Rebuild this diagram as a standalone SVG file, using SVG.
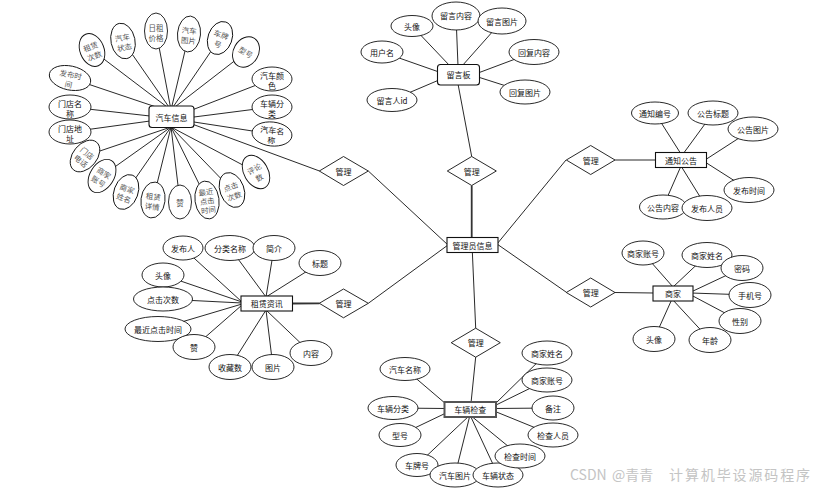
<svg xmlns="http://www.w3.org/2000/svg" width="819" height="494" viewBox="0 0 819 494">
<style>
.bg{fill:#fff}
.c line{stroke:#111;stroke-width:0.9}
.c .k{stroke-width:1.8;stroke:#333}
.e{fill:#fff;stroke:#111;stroke-width:0.9}
.r{fill:#fff;stroke:#111;stroke-width:1.1}
.r2{fill:#fff;stroke:#555;stroke-width:2}
.d{fill:#fff;stroke:#111;stroke-width:0.9}
text{font-family:"Noto Sans CJK SC","Noto Sans",sans-serif;font-size:8px;text-anchor:middle;dominant-baseline:central;fill:#111}
.g{fill:#555;font-size:7.5px}
.wm{fill:#c4c4c4;font-size:14px;text-anchor:start;dominant-baseline:auto}
</style>
<rect class="bg" width="819" height="494"/>
<g id="connectors" class="c">
<line x1="171" y1="110" x2="92" y2="50"/>
<line x1="171" y1="110" x2="123" y2="41"/>
<line x1="171" y1="110" x2="156" y2="31"/>
<line x1="171" y1="110" x2="189" y2="34"/>
<line x1="171" y1="110" x2="220" y2="38"/>
<line x1="171" y1="110" x2="246" y2="52"/>
<line x1="171" y1="112" x2="70" y2="78"/>
<line x1="150" y1="116" x2="70" y2="107"/>
<line x1="150" y1="121" x2="70" y2="132"/>
<line x1="192" y1="110" x2="272" y2="79"/>
<line x1="194" y1="117" x2="272" y2="107"/>
<line x1="194" y1="122" x2="272" y2="134"/>
<line x1="171" y1="127" x2="85" y2="156"/>
<line x1="171" y1="127" x2="102" y2="176"/>
<line x1="171" y1="127" x2="126" y2="192"/>
<line x1="171" y1="127" x2="153" y2="200"/>
<line x1="171" y1="127" x2="180" y2="202"/>
<line x1="171" y1="127" x2="207" y2="200"/>
<line x1="171" y1="127" x2="232" y2="190"/>
<line x1="171" y1="127" x2="256" y2="172"/>
<line x1="192" y1="124" x2="319.5" y2="171"/>
<line x1="450" y1="66" x2="412" y2="26"/>
<line x1="458" y1="66" x2="456" y2="16"/>
<line x1="462" y1="66" x2="502" y2="21"/>
<line x1="439" y1="72" x2="382" y2="52"/>
<line x1="439" y1="80" x2="392" y2="100"/>
<line x1="478" y1="73" x2="534" y2="52"/>
<line x1="478" y1="77" x2="525" y2="92"/>
<line x1="458" y1="84" x2="471.7" y2="156.5"/>
<line x1="681" y1="154" x2="655" y2="113"/>
<line x1="683" y1="154" x2="713" y2="113"/>
<line x1="705" y1="160" x2="753" y2="129"/>
<line x1="705" y1="162" x2="749" y2="190"/>
<line x1="681" y1="166" x2="663" y2="207"/>
<line x1="681" y1="166" x2="707" y2="208"/>
<line x1="615" y1="160" x2="656" y2="160"/>
<line x1="673" y1="287" x2="643" y2="253"/>
<line x1="673" y1="287" x2="707" y2="255"/>
<line x1="691" y1="292" x2="742" y2="268"/>
<line x1="691" y1="293" x2="750" y2="295"/>
<line x1="691" y1="295" x2="740" y2="321"/>
<line x1="672" y1="299" x2="654" y2="339"/>
<line x1="672" y1="299" x2="710" y2="340"/>
<line x1="615" y1="292.5" x2="654" y2="293"/>
<line x1="242" y1="302" x2="183" y2="248"/>
<line x1="266" y1="297" x2="230" y2="248"/>
<line x1="266" y1="297" x2="274" y2="248"/>
<line x1="266" y1="297" x2="320" y2="263"/>
<line x1="242" y1="302" x2="163" y2="275"/>
<line x1="242" y1="303" x2="163" y2="299"/>
<line x1="242" y1="304" x2="158" y2="329"/>
<line x1="242" y1="305" x2="194" y2="347"/>
<line x1="266" y1="310" x2="230" y2="367"/>
<line x1="266" y1="310" x2="273" y2="367"/>
<line x1="266" y1="310" x2="311" y2="353"/>
<line class="k" x1="292" y1="303.5" x2="319.5" y2="303.3"/>
<line x1="446" y1="404" x2="405" y2="369"/>
<line x1="446" y1="408.5" x2="393" y2="408"/>
<line x1="446" y1="413" x2="400" y2="435"/>
<line x1="470" y1="415" x2="417" y2="465"/>
<line x1="470" y1="415" x2="455" y2="475"/>
<line x1="470" y1="415" x2="498" y2="475"/>
<line x1="470" y1="415" x2="520" y2="456"/>
<line x1="494" y1="411" x2="553" y2="435"/>
<line x1="494" y1="408.5" x2="553" y2="408"/>
<line x1="494" y1="406" x2="547" y2="380"/>
<line x1="494" y1="405" x2="547" y2="353"/>
<line x1="475.7" y1="357" x2="471" y2="403"/>
<line x1="368.3" y1="171" x2="448" y2="245"/>
<line x1="368.3" y1="303.3" x2="448" y2="245"/>
<line class="k" x1="471.7" y1="185.5" x2="471.7" y2="238"/>
<line x1="566" y1="160" x2="497" y2="244"/>
<line x1="566.7" y1="292.5" x2="497" y2="244"/>
<line x1="472.3" y1="251" x2="475.7" y2="328.2"/>
</g>

<g id="admin"><rect class="r" x="447" y="237.5" width="51" height="15"/><text x="472.5" y="245">管理员信息</text></g>

<g id="rel-car"><polygon class="d" points="343.5,156.5 368.3,171 343.5,185.5 319.3,171"/><text x="343.5" y="171">管理</text></g>
<g id="rel-msg"><polygon class="d" points="471.7,156.5 496.3,171 471.7,185.5 447.3,171"/><text x="471.7" y="171">管理</text></g>
<g id="rel-notice"><polygon class="d" points="590.7,145.5 615,160 590.7,174.5 566.3,160"/><text x="590.7" y="160">管理</text></g>
<g id="rel-merchant"><polygon class="d" points="590.7,278 615,292.5 590.7,307 566.3,292.5"/><text x="590.7" y="292.5">管理</text></g>
<g id="rel-news"><polygon class="d" points="343.5,289 368.3,303.3 343.5,317.8 319.3,303.3"/><text x="343.5" y="303.3">管理</text></g>
<g id="rel-check"><polygon class="d" points="475.7,328.2 500.3,342.7 475.7,357.2 451.2,342.7"/><text x="475.7" y="342.7">管理</text></g>

<g id="car"><rect class="r" x="149" y="106" width="45" height="21.5" rx="3"/><text x="171.5" y="117">汽车信息</text></g>
<g id="car-zlcs" transform="translate(92,50) rotate(-22)"><ellipse class="e" rx="12" ry="17"/><text class="g"><tspan x="0" y="-4.5">租赁</tspan><tspan x="0" y="5.5">次数</tspan></text></g>
<g id="car-qczt" transform="translate(123,41) rotate(-12)"><ellipse class="e" rx="12" ry="18"/><text class="g"><tspan x="0" y="-4.5">汽车</tspan><tspan x="0" y="5.5">状态</tspan></text></g>
<g id="car-rzjg" transform="translate(156,31)"><ellipse class="e" rx="11.5" ry="18"/><text class="g"><tspan x="0" y="-4.5">日租</tspan><tspan x="0" y="5.5">价格</tspan></text></g>
<g id="car-qctp" transform="translate(189,34) rotate(5)"><ellipse class="e" rx="11.5" ry="18"/><text class="g"><tspan x="0" y="-4.5">汽车</tspan><tspan x="0" y="5.5">图片</tspan></text></g>
<g id="car-cph" transform="translate(220,38) rotate(20)"><ellipse class="e" rx="12" ry="17"/><text class="g"><tspan x="0" y="-4.5">车牌</tspan><tspan x="0" y="5.5">号</tspan></text></g>
<g id="car-xh" transform="translate(246,52) rotate(30)"><ellipse class="e" rx="12.5" ry="16"/><text class="g" x="0" y="0">型号</text></g>
<g id="car-fbsj" transform="translate(70,78) rotate(12)"><ellipse class="e" rx="21" ry="12"/><text class="g"><tspan x="0" y="-4.5">发布时</tspan><tspan x="0" y="5.5">间</tspan></text></g>
<g id="car-mdmc" transform="translate(70,107)"><ellipse class="e" rx="21" ry="12"/><text><tspan x="0" y="-4.5">门店名</tspan><tspan x="0" y="5.5">称</tspan></text></g>
<g id="car-mddz" transform="translate(70,132)"><ellipse class="e" rx="21" ry="12"/><text><tspan x="0" y="-4.5">门店地</tspan><tspan x="0" y="5.5">址</tspan></text></g>
<g id="car-qcys" transform="translate(272,79)"><ellipse class="e" rx="20" ry="12"/><text><tspan x="0" y="-4.5">汽车颜</tspan><tspan x="0" y="5.5">色</tspan></text></g>
<g id="car-clfl" transform="translate(272,107)"><ellipse class="e" rx="20" ry="12"/><text><tspan x="0" y="-4.5">车辆分</tspan><tspan x="0" y="5.5">类</tspan></text></g>
<g id="car-qcmc" transform="translate(272,134) rotate(6)"><ellipse class="e" rx="20" ry="12"/><text><tspan x="0" y="-4.5">汽车名</tspan><tspan x="0" y="5.5">称</tspan></text></g>
<g id="car-mddh" transform="translate(85,156) rotate(40)"><ellipse class="e" rx="12" ry="18"/><text class="g"><tspan x="0" y="-4.5">门店</tspan><tspan x="0" y="5.5">电话</tspan></text></g>
<g id="car-sjzh" transform="translate(102,176) rotate(32)"><ellipse class="e" rx="12" ry="18"/><text class="g"><tspan x="0" y="-4.5">商家</tspan><tspan x="0" y="5.5">账号</tspan></text></g>
<g id="car-sjxm" transform="translate(126,192) rotate(20)"><ellipse class="e" rx="12" ry="18"/><text class="g"><tspan x="0" y="-4.5">商家</tspan><tspan x="0" y="5.5">姓名</tspan></text></g>
<g id="car-zlxq" transform="translate(153,200) rotate(7)"><ellipse class="e" rx="12" ry="18"/><text class="g"><tspan x="0" y="-4.5">租赁</tspan><tspan x="0" y="5.5">详情</tspan></text></g>
<g id="car-zan" transform="translate(180,202)"><ellipse class="e" rx="11.5" ry="17"/><text class="g" x="0" y="0">赞</text></g>
<g id="car-zjdjsj" transform="translate(207,200) rotate(-8)"><ellipse class="e" rx="12" ry="19"/><text class="g"><tspan x="0" y="-9">最近</tspan><tspan x="0" y="0">点击</tspan><tspan x="0" y="9">时间</tspan></text></g>
<g id="car-djcs" transform="translate(232,190) rotate(-20)"><ellipse class="e" rx="12" ry="18"/><text class="g"><tspan x="0" y="-4.5">点击</tspan><tspan x="0" y="5.5">次数</tspan></text></g>
<g id="car-pls" transform="translate(256,172) rotate(-30)"><ellipse class="e" rx="12" ry="18"/><text class="g"><tspan x="0" y="-4.5">评论</tspan><tspan x="0" y="5.5">数</tspan></text></g>

<g id="msg"><rect class="r" x="437.5" y="64.5" width="42" height="20.5" rx="3"/><text x="458.5" y="74.5">留言板</text></g>
<g id="msg-tx"><ellipse class="e" cx="412" cy="26" rx="21" ry="10.5"/><text x="412" y="26">头像</text></g>
<g id="msg-lynr"><ellipse class="e" cx="456" cy="16" rx="24" ry="14"/><text x="456" y="15">留言内容</text></g>
<g id="msg-lytp"><ellipse class="e" cx="502" cy="21" rx="24" ry="13"/><text x="502" y="21">留言图片</text></g>
<g id="msg-yhm"><ellipse class="e" cx="382" cy="52" rx="21" ry="11"/><text x="382" y="52">用户名</text></g>
<g id="msg-hfnr"><ellipse class="e" cx="534" cy="52" rx="25" ry="12.5"/><text x="534" y="52">回复内容</text></g>
<g id="msg-lyrid"><ellipse class="e" cx="392" cy="100" rx="25" ry="11.5"/><text x="392" y="100">留言人id</text></g>
<g id="msg-hftp"><ellipse class="e" cx="525" cy="92" rx="25" ry="12"/><text x="525" y="92">回复图片</text></g>

<g id="notice"><rect class="r" x="655.5" y="152.5" width="51" height="15"/><text x="681" y="160">通知公告</text></g>
<g id="notice-tzbh"><ellipse class="e" cx="655" cy="113" rx="23.5" ry="11"/><text x="655" y="113">通知编号</text></g>
<g id="notice-ggbt"><ellipse class="e" cx="713" cy="113" rx="25" ry="12"/><text x="713" y="113">公告标题</text></g>
<g id="notice-ggtp"><ellipse class="e" cx="753" cy="129" rx="25" ry="12"/><text x="753" y="129">公告图片</text></g>
<g id="notice-fbsj"><ellipse class="e" cx="749" cy="190" rx="25" ry="12.5"/><text x="749" y="190">发布时间</text></g>
<g id="notice-ggnr"><ellipse class="e" cx="663" cy="207" rx="23.5" ry="12"/><text x="663" y="207">公告内容</text></g>
<g id="notice-fbry"><ellipse class="e" cx="707" cy="208" rx="25" ry="12.5"/><text x="707" y="208">发布人员</text></g>

<g id="merchant"><rect class="r" x="653" y="286" width="40" height="15"/><text x="673" y="293.5">商家</text></g>
<g id="merchant-sjzh"><ellipse class="e" cx="643" cy="253" rx="21" ry="12"/><text x="643" y="253">商家账号</text></g>
<g id="merchant-sjxm"><ellipse class="e" cx="707" cy="255" rx="25" ry="12.5"/><text x="707" y="255">商家姓名</text></g>
<g id="merchant-mm"><ellipse class="e" cx="742" cy="268" rx="21" ry="12.5"/><text x="742" y="268">密码</text></g>
<g id="merchant-sjh"><ellipse class="e" cx="750" cy="295" rx="21" ry="12.5"/><text x="750" y="295">手机号</text></g>
<g id="merchant-xb"><ellipse class="e" cx="740" cy="321" rx="21" ry="12.5"/><text x="740" y="321">性别</text></g>
<g id="merchant-tx"><ellipse class="e" cx="654" cy="339" rx="21" ry="12.5"/><text x="654" y="339">头像</text></g>
<g id="merchant-nl"><ellipse class="e" cx="710" cy="340" rx="21" ry="12.5"/><text x="710" y="340">年龄</text></g>

<g id="news"><rect class="r" x="241" y="296" width="51.5" height="15"/><text x="266.7" y="303.5">租赁资讯</text></g>
<g id="news-fbr"><ellipse class="e" cx="183" cy="248" rx="20" ry="12"/><text x="183" y="248">发布人</text></g>
<g id="news-flmc"><ellipse class="e" cx="230" cy="248" rx="25" ry="12.5"/><text x="230" y="248">分类名称</text></g>
<g id="news-jj"><ellipse class="e" cx="274" cy="248" rx="21" ry="12.5"/><text x="274" y="248">简介</text></g>
<g id="news-bt"><ellipse class="e" cx="320" cy="263" rx="21" ry="12.5"/><text x="320" y="263">标题</text></g>
<g id="news-tx"><ellipse class="e" cx="163" cy="275" rx="21" ry="12"/><text x="163" y="275">头像</text></g>
<g id="news-djcs"><ellipse class="e" cx="163" cy="299" rx="29.5" ry="12"/><text x="163" y="299">点击次数</text></g>
<g id="news-zjdjsj"><ellipse class="e" cx="158" cy="329" rx="33" ry="12.5"/><text x="158" y="329">最近点击时间</text></g>
<g id="news-zan"><ellipse class="e" cx="194" cy="347" rx="21" ry="12.5"/><text x="194" y="347">赞</text></g>
<g id="news-scs"><ellipse class="e" cx="230" cy="367" rx="21" ry="12.5"/><text x="230" y="367">收藏数</text></g>
<g id="news-tp"><ellipse class="e" cx="273" cy="367" rx="21" ry="12.5"/><text x="273" y="367">图片</text></g>
<g id="news-nr"><ellipse class="e" cx="311" cy="353" rx="21" ry="12.5"/><text x="311" y="353">内容</text></g>

<g id="check"><rect class="r2" x="444.5" y="402" width="51.5" height="15"/><text x="470.2" y="409.5">车辆检查</text></g>
<g id="check-qcmc"><ellipse class="e" cx="405" cy="369" rx="25" ry="11.5"/><text x="405" y="369">汽车名称</text></g>
<g id="check-clfl"><ellipse class="e" cx="393" cy="408" rx="25" ry="11.5"/><text x="393" y="408">车辆分类</text></g>
<g id="check-xh"><ellipse class="e" cx="400" cy="435" rx="21" ry="11.5"/><text x="400" y="435">型号</text></g>
<g id="check-cph"><ellipse class="e" cx="417" cy="465" rx="21" ry="11.5"/><text x="417" y="465">车牌号</text></g>
<g id="check-qctp"><ellipse class="e" cx="455" cy="475" rx="25" ry="12"/><text x="455" y="475">汽车图片</text></g>
<g id="check-clzt"><ellipse class="e" cx="498" cy="475" rx="25" ry="12"/><text x="498" y="475">车辆状态</text></g>
<g id="check-jcsj"><ellipse class="e" cx="520" cy="456" rx="25" ry="12"/><text x="520" y="456">检查时间</text></g>
<g id="check-jcry"><ellipse class="e" cx="553" cy="435" rx="25" ry="12"/><text x="553" y="435">检查人员</text></g>
<g id="check-bz"><ellipse class="e" cx="553" cy="408" rx="21" ry="12"/><text x="553" y="408">备注</text></g>
<g id="check-sjzh"><ellipse class="e" cx="547" cy="380" rx="25" ry="12"/><text x="547" y="380">商家账号</text></g>
<g id="check-sjxm"><ellipse class="e" cx="547" cy="353" rx="25" ry="12"/><text x="547" y="353">商家姓名</text></g>

<text class="wm" y="480"><tspan x="570">CSDN</tspan><tspan x="612">@青青</tspan><tspan x="669" textLength="141" lengthAdjust="spacing">计算机毕设源码程序</tspan></text>
</svg>
